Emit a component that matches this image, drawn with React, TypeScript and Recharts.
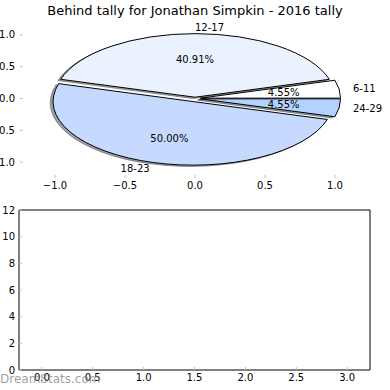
import { PieChart, Pie, ComposedChart, Bar, XAxis, YAxis } from "recharts";

// pie: tally per age group
const ageGroups = ["6-11", "12-17", "18-23", "24-29"];
const tallies = [1, 9, 11, 1];
const sliceColors = ["#ffffff", "#eaf2ff", "#c6daff", "#b4d2ff"];
const explode = [0.04, 0.02, 0.05, 0.04];
const pieTicks = [-1, -0.5, 0, 0.5, 1];

// lower (empty) panel
const barX = [0, 1, 2, 3];
const barValues = [0, 0, 0, 0];
const barXTicks = [0, 0.5, 1, 1.5, 2, 2.5, 3];
const barYTicks = [0, 2, 4, 6, 8, 10, 12];

const FONT = "DejaVu Sans";
const TICK_GRAY = "#c0c0c0";
const RAD = Math.PI / 180;
// vertical squash of the pie (px per unit y / px per unit x)
const K = 63.6 / 140;

const pieData = ageGroups.map((name, i) => ({
  name,
  value: tallies[i],
  fill: sliceColors[i],
  explode: explode[i],
}));

const barData = barX.map((x, i) => ({ x, v: barValues[i] }));

const fmt = (v: number) => {
  const s = v.toFixed(1);
  return v < 0 ? "\u2212" + s.slice(1) : s;
};

const wedgePath = (p: any, dx = 0, dy = 0) => {
  const rx = p.outerRadius;
  const ry = p.outerRadius * K;
  const e = p.explode ?? p.payload?.explode ?? 0;
  const ox = p.cx + e * rx * Math.cos(p.midAngle * RAD) + dx;
  const oy = p.cy - e * ry * Math.sin(p.midAngle * RAD) + dy;
  const x1 = ox + rx * Math.cos(p.startAngle * RAD);
  const y1 = oy - ry * Math.sin(p.startAngle * RAD);
  const x2 = ox + rx * Math.cos(p.endAngle * RAD);
  const y2 = oy - ry * Math.sin(p.endAngle * RAD);
  const large = Math.abs(p.endAngle - p.startAngle) > 180 ? 1 : 0;
  return `M${ox},${oy} L${x1},${y1} A${rx},${ry} 0 ${large} 0 ${x2},${y2} Z`;
};

const Wedge = (p: any) => (
  <path d={wedgePath(p)} fill={p.fill} stroke="#000" strokeWidth={1} strokeLinejoin="miter" />
);

const darken = (hex: string) => {
  const n = parseInt(hex.slice(1), 16);
  const r = Math.round(((n >> 16) & 255) * 0.3);
  const g = Math.round(((n >> 8) & 255) * 0.3);
  const b = Math.round((n & 255) * 0.3);
  return `rgb(${r},${g},${b})`;
};

const ShadowWedge = (p: any) => {
  const c = darken(p.payload?.fill ?? p.fill ?? "#ffffff");
  return (
    <path
      d={wedgePath(p, -0.02 * p.outerRadius, 0.02 * p.outerRadius * K)}
      fill={c}
      stroke={c}
      fillOpacity={0.5}
      strokeOpacity={0.5}
    />
  );
};

const renderLabel = (p: any) => {
  const rx = p.outerRadius;
  const ry = p.outerRadius * K;
  const e = p.explode ?? p.payload?.explode ?? 0;
  const c = Math.cos(p.midAngle * RAD);
  const s = Math.sin(p.midAngle * RAD);
  const lx = p.cx + (1.1 + e) * rx * c;
  const ly = p.cy - (1.1 + e) * ry * s;
  const px = p.cx + (0.6 + e) * rx * c;
  const py = p.cy - (0.6 + e) * ry * s;
  return (
    <g>
      <text x={lx} y={ly} dy="0.35em" textAnchor={c > -1e-6 ? "start" : "end"} fontSize={10} fontFamily={FONT} fill="#000">
        {p.name}
      </text>
      <text x={px} y={py} dy="0.35em" textAnchor="middle" fontSize={10} fontFamily={FONT} fill="#000">
        {(p.percent * 100).toFixed(2)}%
      </text>
    </g>
  );
};

const tickStyle = { fill: "#000", fontSize: 10, fontFamily: FONT };

export default function App() {
  return (
    <div style={{ position: "absolute", left: 0, top: 0, width: 390, height: 390, background: "#fff" }}>
      {/* pie axes ticks */}
      <div style={{ position: "absolute", left: 0, top: 0 }}>
        <ComposedChart width={390} height={200} data={pieData} margin={{ top: 18, right: 0, bottom: 0, left: 0 }}>
          <XAxis xAxisId="b" type="number" dataKey="value" domain={[-1.25, 1.25]} allowDataOverflow ticks={pieTicks} tickFormatter={fmt}
            height={22} axisLine={false} tickLine={{ stroke: TICK_GRAY }} tickSize={-3} tickMargin={7} tick={tickStyle} />
          <XAxis xAxisId="t" orientation="top" type="number" dataKey="value" domain={[-1.25, 1.25]} allowDataOverflow ticks={pieTicks}
            height={1} axisLine={false} tickLine={{ stroke: TICK_GRAY }} tickSize={-3} tick={false} />
          <YAxis yAxisId="l" type="number" domain={[-1.25, 1.25]} allowDataOverflow ticks={pieTicks} tickFormatter={fmt}
            width={20} axisLine={false} tickLine={{ stroke: TICK_GRAY }} tickSize={-3} tickMargin={8} tick={tickStyle} />
          <YAxis yAxisId="r" orientation="right" type="number" domain={[-1.25, 1.25]} allowDataOverflow ticks={pieTicks}
            width={20} axisLine={false} tickLine={{ stroke: TICK_GRAY }} tickSize={-3} tick={false} />
        </ComposedChart>
      </div>

      {/* pie */}
      <div style={{ position: "absolute", left: 0, top: 0 }}>
        <PieChart width={390} height={200} margin={{ top: 0, right: 0, bottom: 0, left: 0 }}>
          <Pie data={pieData} dataKey="value" nameKey="name" cx={195} cy={98.5} outerRadius={140}
            startAngle={0} endAngle={360} stroke="none" isAnimationActive={false}
            shape={ShadowWedge} inactiveShape={ShadowWedge} activeShape={ShadowWedge} />
          <Pie data={pieData} dataKey="value" nameKey="name" cx={195} cy={98.5} outerRadius={140}
            startAngle={0} endAngle={360} stroke="#000" isAnimationActive={false}
            shape={Wedge} inactiveShape={Wedge} activeShape={Wedge}
            label={renderLabel} labelLine={false} />
        </PieChart>
      </div>

      {/* lower empty panel */}
      <div style={{ position: "absolute", left: 0, top: 200 }}>
        <ComposedChart width={390} height={190} data={barData} margin={{ top: 9, right: 0, bottom: 0, left: 0 }}>
          <XAxis xAxisId={0} type="number" dataKey="x" domain={[-0.225, 3.225]} ticks={barXTicks} tickFormatter={fmt}
            height={20} axisLine={{ stroke: "#000" }} tickLine={{ stroke: TICK_GRAY }} tickSize={-3} tickMargin={7} tick={tickStyle} />
          <XAxis xAxisId="t" orientation="top" type="number" dataKey="x" domain={[-0.225, 3.225]} ticks={barXTicks}
            height={1} axisLine={{ stroke: "#000" }} tickLine={{ stroke: TICK_GRAY }} tickSize={-3} tick={false} />
          <YAxis yAxisId={0} type="number" domain={[0, 12]} ticks={barYTicks}
            width={19} axisLine={{ stroke: "#000" }} tickLine={{ stroke: TICK_GRAY }} tickSize={-3} tickMargin={7} tick={tickStyle} />
          <YAxis yAxisId="r" orientation="right" type="number" domain={[0, 12]} ticks={barYTicks}
            width={20} axisLine={{ stroke: "#000" }} tickLine={{ stroke: TICK_GRAY }} tickSize={-3} tick={false} />
          <Bar xAxisId={0} yAxisId={0} dataKey="v" fill="#b4d2ff" barSize={40} isAnimationActive={false} />
        </ComposedChart>
      </div>

      <svg width={390} height={390} style={{ position: "absolute", left: 0, top: 0, pointerEvents: "none" }}>
        <text x={195} y={15} textAnchor="middle" fontSize={13} fontFamily={FONT} fill="#000">
          Behind tally for Jonathan Simpkin - 2016 tally
        </text>
        <text x={0} y={383} fontSize={12} fontFamily={FONT} fill="#808080" fillOpacity={0.75}>
          DreamStats.com
        </text>
      </svg>
    </div>
  );
}
